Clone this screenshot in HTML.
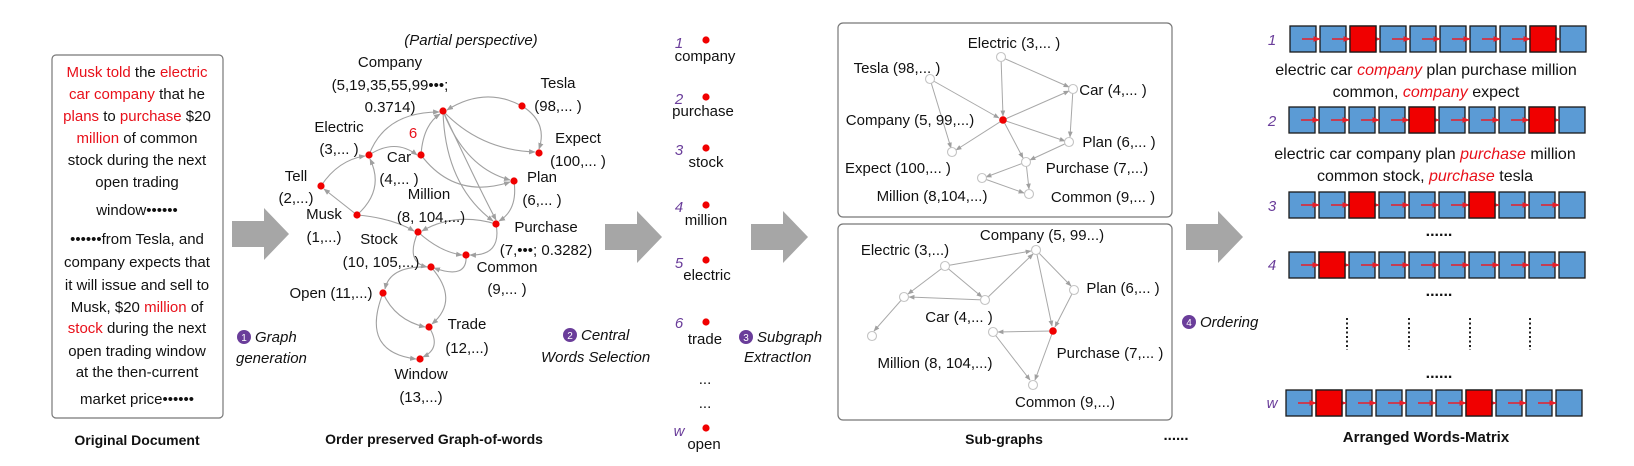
<!DOCTYPE html>
<html><head><meta charset="utf-8"><style>
html,body{margin:0;padding:0;background:#fff;}
svg{display:block;font-family:"Liberation Sans",sans-serif;}
</style></head><body>
<svg width="1634" height="466" viewBox="0 0 1634 466" xmlns="http://www.w3.org/2000/svg">
<defs>
<marker id="ga" viewBox="0 0 10 10" refX="9" refY="5" markerWidth="6" markerHeight="6" orient="auto"><path d="M0,1 L10,5 L0,9 z" fill="#a0a0a0"/></marker>
<marker id="ra" viewBox="0 0 10 10" refX="9" refY="5" markerWidth="5" markerHeight="5" orient="auto"><path d="M0,1 L10,5 L0,9 z" fill="#e8202a"/></marker>
<g id="row">
<g fill="#5b9bd5" stroke="#1a1a1a" stroke-width="1.3">
<rect x="0" y="0" width="26" height="26"/><rect x="30" y="0" width="26" height="26"/><rect x="60" y="0" width="26" height="26"/><rect x="90" y="0" width="26" height="26"/><rect x="120" y="0" width="26" height="26"/><rect x="150" y="0" width="26" height="26"/><rect x="180" y="0" width="26" height="26"/><rect x="210" y="0" width="26" height="26"/><rect x="240" y="0" width="26" height="26"/><rect x="270" y="0" width="26" height="26"/>
</g>
<g stroke="#e8202a" stroke-width="1.5" marker-end="url(#ra)">
<line x1="12" y1="13" x2="30" y2="13"/><line x1="42" y1="13" x2="60" y2="13"/><line x1="72" y1="13" x2="90" y2="13"/><line x1="102" y1="13" x2="120" y2="13"/><line x1="132" y1="13" x2="150" y2="13"/><line x1="162" y1="13" x2="180" y2="13"/><line x1="192" y1="13" x2="210" y2="13"/><line x1="222" y1="13" x2="240" y2="13"/><line x1="252" y1="13" x2="270" y2="13"/>
</g>
</g>
<path id="bigarrow" d="M0,-13 L32,-13 L32,-26 L57,0 L32,26 L32,13 L0,13 z" fill="#a6a6a6"/>
</defs>

<!-- Original document -->
<rect x="52" y="55" width="171" height="363" rx="4" fill="#fff" stroke="#777" stroke-width="1.2"/>
<g font-size="15" text-anchor="middle" fill="#111">
<text x="137" y="77"><tspan fill="#e8101a">Musk told</tspan> the <tspan fill="#e8101a">electric</tspan></text>
<text x="137" y="99"><tspan fill="#e8101a">car company</tspan> that he</text>
<text x="137" y="121"><tspan fill="#e8101a">plans</tspan> to <tspan fill="#e8101a">purchase</tspan> $20</text>
<text x="137" y="143"><tspan fill="#e8101a">million</tspan> of common</text>
<text x="137" y="165">stock during the next</text>
<text x="137" y="187">open trading</text>
<text x="137" y="215">window••••••</text>
<text x="137" y="244">••••••from Tesla, and</text>
<text x="137" y="267">company expects that</text>
<text x="137" y="290">it will issue and sell to</text>
<text x="137" y="312">Musk, $20 <tspan fill="#e8101a">million</tspan> of</text>
<text x="137" y="333"><tspan fill="#e8101a">stock</tspan> during the next</text>
<text x="137" y="356">open trading window</text>
<text x="137" y="377">at the then-current</text>
<text x="137" y="404">market price••••••</text>
</g>

<!-- big arrows -->
<use href="#bigarrow" x="232" y="234"/>
<use href="#bigarrow" x="605" y="237"/>
<use href="#bigarrow" x="751" y="237"/>
<use href="#bigarrow" x="1186" y="237"/>

<!-- Graph edges -->
<g fill="none" stroke="#a0a0a0" stroke-width="1.1" marker-end="url(#ga)">
<path d="M522,106 Q485,86 447,110"/>
<path d="M522,106 Q548,122 539,149"/>
<path d="M443,111 Q480,150 535,152"/>
<path d="M443,111 Q465,168 510,180"/>
<path d="M443,111 Q445,185 493,221"/>
<path d="M443,111 Q480,190 496,220"/>
<path d="M369,155 Q385,112 439,112"/>
<path d="M369,155 Q395,138 417,155"/>
<path d="M421,155 Q423,125 440,114"/>
<path d="M421,155 Q455,200 510,182"/>
<path d="M321,186 Q338,160 365,156"/>
<path d="M357,215 L324,189"/>
<path d="M357,215 Q385,190 370,159"/>
<path d="M357,215 Q392,218 414,231"/>
<path d="M496,224 Q455,212 422,231"/>
<path d="M514,181 Q518,210 499,221"/>
<path d="M496,224 Q502,256 470,255"/>
<path d="M418,232 Q440,252 462,255"/>
<path d="M418,232 Q405,262 427,267"/>
<path d="M466,255 Q468,280 434,268"/>
<path d="M431,267 Q390,265 385,289"/>
<path d="M431,267 Q460,300 432,324"/>
<path d="M383,293 Q395,320 425,327"/>
<path d="M383,293 Q360,352 416,359"/>
<path d="M429,327 Q442,348 423,357"/>
</g>
<g fill="#f00000">
<circle cx="443" cy="111" r="3.6"/><circle cx="522" cy="106" r="3.6"/><circle cx="539" cy="153" r="3.6"/><circle cx="369" cy="155" r="3.6"/><circle cx="421" cy="155" r="3.6"/><circle cx="321" cy="186" r="3.6"/><circle cx="514" cy="181" r="3.6"/><circle cx="357" cy="215" r="3.6"/><circle cx="418" cy="232" r="3.6"/><circle cx="496" cy="224" r="3.6"/><circle cx="466" cy="255" r="3.6"/><circle cx="431" cy="267" r="3.6"/><circle cx="383" cy="293" r="3.6"/><circle cx="429" cy="327" r="3.6"/><circle cx="420" cy="359" r="3.6"/>
</g>
<g font-size="15" text-anchor="middle" fill="#111">
<text x="471" y="45" font-style="italic">(Partial perspective)</text>
<text x="390" y="67">Company</text>
<text x="390" y="90">(5,19,35,55,99•••;</text>
<text x="390" y="112">0.3714)</text>
<text x="558" y="88">Tesla</text>
<text x="558" y="111">(98,... )</text>
<text x="339" y="132">Electric</text>
<text x="339" y="154">(3,... )</text>
<text x="413" y="138" fill="#e8101a">6</text>
<text x="399" y="162">Car</text>
<text x="399" y="184">(4,... )</text>
<text x="578" y="143">Expect</text>
<text x="578" y="166">(100,... )</text>
<text x="296" y="181">Tell</text>
<text x="296" y="203">(2,...)</text>
<text x="542" y="182">Plan</text>
<text x="542" y="205">(6,... )</text>
<text x="429" y="199">Million</text>
<text x="431" y="222">(8, 104,...)</text>
<text x="324" y="219">Musk</text>
<text x="324" y="242">(1,...)</text>
<text x="546" y="232">Purchase</text>
<text x="546" y="255">(7,•••; 0.3282)</text>
<text x="379" y="244">Stock</text>
<text x="381" y="267">(10, 105,...)</text>
<text x="507" y="272">Common</text>
<text x="507" y="294">(9,... )</text>
<text x="331" y="298">Open (11,...)</text>
<text x="467" y="329">Trade</text>
<text x="467" y="353">(12,...)</text>
<text x="421" y="379">Window</text>
<text x="421" y="402">(13,...)</text>
<text x="434" y="444" font-weight="bold" font-size="14">Order preserved Graph-of-words</text>
<text x="137" y="445" font-weight="bold" font-size="14">Original Document</text>
<text x="1004" y="444" font-weight="bold" font-size="14">Sub-graphs</text>
<text x="1426" y="442" font-weight="bold" font-size="15">Arranged Words-Matrix</text>
</g>

<!-- step labels -->
<g font-size="15" font-style="italic" fill="#111">
<circle cx="244" cy="337" r="7" fill="#6a3d9a"/><text x="244" y="341" font-size="10" fill="#fff" text-anchor="middle" font-style="normal">1</text>
<text x="255" y="342">Graph</text>
<text x="236" y="363">generation</text>
<circle cx="570" cy="335" r="7" fill="#6a3d9a"/><text x="570" y="339" font-size="10" fill="#fff" text-anchor="middle" font-style="normal">2</text>
<text x="581" y="340">Central</text>
<text x="541" y="362">Words Selection</text>
<circle cx="746" cy="337" r="7" fill="#6a3d9a"/><text x="746" y="341" font-size="10" fill="#fff" text-anchor="middle" font-style="normal">3</text>
<text x="757" y="342">Subgraph</text>
<text x="744" y="362">ExtractIon</text>
<circle cx="1189" cy="322" r="7" fill="#6a3d9a"/><text x="1189" y="326" font-size="10" fill="#fff" text-anchor="middle" font-style="normal">4</text>
<text x="1200" y="327">Ordering</text>
</g>

<!-- central words column -->
<g font-size="15" fill="#111" text-anchor="middle">
<g fill="#f00000"><circle cx="706" cy="40" r="3.6"/><circle cx="706" cy="97" r="3.6"/><circle cx="706" cy="148" r="3.6"/><circle cx="706" cy="205" r="3.6"/><circle cx="706" cy="260" r="3.6"/><circle cx="706" cy="322" r="3.6"/><circle cx="706" cy="428" r="3.6"/></g>
<g fill="#6a3d9a" font-style="italic"><text x="679" y="48">1</text><text x="679" y="104">2</text><text x="679" y="155">3</text><text x="679" y="212">4</text><text x="679" y="268">5</text><text x="679" y="328">6</text><text x="679" y="436">w</text></g>
<text x="705" y="61">company</text>
<text x="703" y="116">purchase</text>
<text x="706" y="167">stock</text>
<text x="706" y="225">million</text>
<text x="707" y="280">electric</text>
<text x="705" y="344">trade</text>
<text x="705" y="384">...</text>
<text x="705" y="408">...</text>
<text x="704" y="449">open</text>
</g>

<!-- subgraph boxes -->
<rect x="838" y="23" width="334" height="194" rx="5" fill="none" stroke="#777" stroke-width="1.2"/>
<rect x="838" y="224" width="334" height="196" rx="5" fill="none" stroke="#777" stroke-width="1.2"/>
<g fill="none" stroke="#a8a8a8" stroke-width="1" marker-end="url(#ga)">
<path d="M1001,57 L1003,116"/><path d="M1001,57 L1069,87"/><path d="M930,79 L999,118"/><path d="M930,79 L951,148"/>
<path d="M1003,120 L1069,91"/><path d="M1003,120 L956,150"/><path d="M1003,120 L1065,141"/><path d="M1003,120 L1023,158"/>
<path d="M1073,89 L1070,137"/><path d="M1069,142 L1030,160"/><path d="M1026,162 L986,177"/><path d="M1026,162 L1029,189"/><path d="M982,178 L1024,193"/>
<path d="M945,266 L1031,251"/><path d="M945,266 L908,294"/><path d="M945,266 L982,297"/><path d="M985,300 L909,297"/><path d="M985,300 L1033,254"/><path d="M904,297 L874,331"/>
<path d="M1036,250 L1071,286"/><path d="M1036,250 L1052,326"/><path d="M1074,290 L1055,327"/><path d="M1053,331 L998,332"/><path d="M993,332 L1030,380"/><path d="M1053,331 L1035,380"/>
</g>
<g fill="#fff" stroke="#c4c4c4" stroke-width="1.1">
<circle cx="1001" cy="57" r="4.5"/><circle cx="930" cy="79" r="4.5"/><circle cx="1073" cy="89" r="4.5"/><circle cx="1069" cy="142" r="4.5"/><circle cx="952" cy="152" r="4.5"/><circle cx="1026" cy="162" r="4.5"/><circle cx="982" cy="178" r="4.5"/><circle cx="1029" cy="194" r="4.5"/>
<circle cx="1036" cy="250" r="4.5"/><circle cx="945" cy="266" r="4.5"/><circle cx="904" cy="297" r="4.5"/><circle cx="985" cy="300" r="4.5"/><circle cx="1074" cy="290" r="4.5"/><circle cx="872" cy="336" r="4.5"/><circle cx="993" cy="332" r="4.5"/><circle cx="1033" cy="385" r="4.5"/>
</g>
<g fill="#f00000"><circle cx="1003" cy="120" r="3.8"/><circle cx="1053" cy="331" r="3.8"/></g>
<g font-size="15" fill="#111" text-anchor="middle">
<text x="1014" y="48">Electric (3,... )</text>
<text x="897" y="73">Tesla (98,... )</text>
<text x="1113" y="95">Car (4,... )</text>
<text x="910" y="125">Company (5, 99,...)</text>
<text x="1119" y="147">Plan (6,... )</text>
<text x="898" y="173">Expect (100,... )</text>
<text x="1097" y="173">Purchase (7,...)</text>
<text x="932" y="201">Million (8,104,...)</text>
<text x="1103" y="202">Common (9,... )</text>
<text x="1042" y="240">Company (5, 99...)</text>
<text x="905" y="255">Electric (3,...)</text>
<text x="1123" y="293">Plan (6,... )</text>
<text x="959" y="322">Car (4,... )</text>
<text x="1110" y="358">Purchase (7,... )</text>
<text x="935" y="368">Million (8, 104,...)</text>
<text x="1065" y="407">Common (9,...)</text>
<text x="1176" y="440" font-weight="bold">......</text>
</g>

<!-- words matrix -->
<g font-size="15" font-style="italic" fill="#6a3d9a" text-anchor="middle">
<text x="1272" y="45">1</text><text x="1272" y="126">2</text><text x="1272" y="211">3</text><text x="1272" y="270">4</text><text x="1272" y="408">w</text>
</g>
<use href="#row" x="1290" y="26"/>
<rect x="1320" y="26" width="26" height="26" fill="none"/>
<g fill="#f00000" stroke="#1a1a1a" stroke-width="1.3">
<rect x="1350" y="26" width="26" height="26"/><rect x="1530" y="26" width="26" height="26"/>
</g>
<use href="#row" x="1289" y="107"/>
<g fill="#f00000" stroke="#1a1a1a" stroke-width="1.3">
<rect x="1409" y="107" width="26" height="26"/><rect x="1529" y="107" width="26" height="26"/>
</g>
<use href="#row" x="1289" y="192"/>
<g fill="#f00000" stroke="#1a1a1a" stroke-width="1.3">
<rect x="1349" y="192" width="26" height="26"/><rect x="1469" y="192" width="26" height="26"/>
</g>
<use href="#row" x="1289" y="252"/>
<g fill="#f00000" stroke="#1a1a1a" stroke-width="1.3">
<rect x="1319" y="252" width="26" height="26"/>
</g>
<use href="#row" x="1286" y="390"/>
<g fill="#f00000" stroke="#1a1a1a" stroke-width="1.3">
<rect x="1316" y="390" width="26" height="26"/><rect x="1466" y="390" width="26" height="26"/>
</g>
<g font-size="16" fill="#111" text-anchor="middle">
<text x="1426" y="75">electric car <tspan fill="#e8101a" font-style="italic">company</tspan> plan purchase million</text>
<text x="1426" y="97">common, <tspan fill="#e8101a" font-style="italic">company</tspan> expect</text>
<text x="1425" y="159">electric car company plan <tspan fill="#e8101a" font-style="italic">purchase</tspan> million</text>
<text x="1425" y="181">common stock, <tspan fill="#e8101a" font-style="italic">purchase</tspan> tesla</text>
<text x="1439" y="236" font-weight="bold">......</text>
<text x="1439" y="296" font-weight="bold">......</text>
<text x="1439" y="378" font-weight="bold">......</text>
</g>
<g stroke="#222" stroke-width="2" stroke-dasharray="2,2.5">
<line x1="1347" y1="318" x2="1347" y2="350"/><line x1="1409" y1="318" x2="1409" y2="350"/><line x1="1470" y1="318" x2="1470" y2="350"/><line x1="1530" y1="318" x2="1530" y2="350"/>
</g>
</svg>
</body></html>
